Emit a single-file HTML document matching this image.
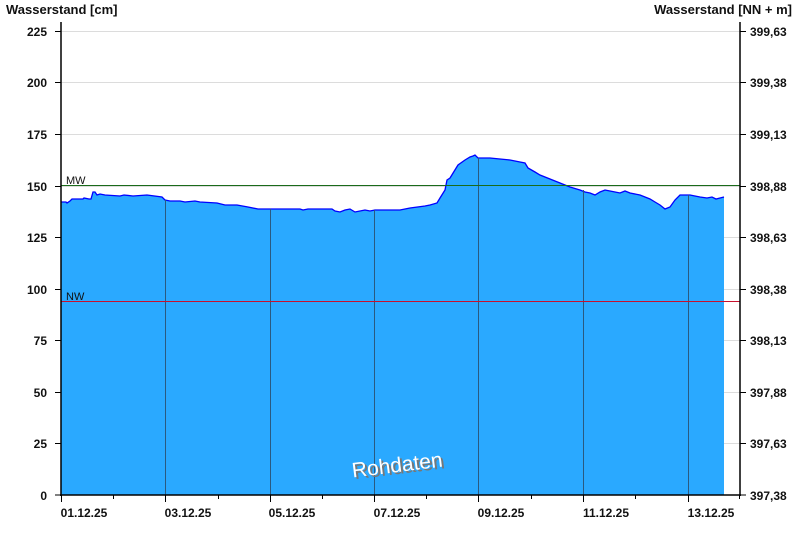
<!DOCTYPE html>
<html><head><meta charset="utf-8"><style>
html,body{margin:0;padding:0;background:#fff;}
svg{display:block;font-family:"Liberation Sans",Arial,sans-serif;}
</style></head><body>
<svg width="800" height="550" viewBox="0 0 800 550">
<rect width="800" height="550" fill="#fff"/>
<g stroke="#dcdcdc" stroke-width="1">
<line x1="61" x2="740" y1="31.5" y2="31.5"/>
<line x1="61" x2="740" y1="82.5" y2="82.5"/>
<line x1="61" x2="740" y1="134.5" y2="134.5"/>
<line x1="61" x2="740" y1="186.5" y2="186.5"/>
<line x1="61" x2="740" y1="237.5" y2="237.5"/>
<line x1="61" x2="740" y1="289.5" y2="289.5"/>
<line x1="61" x2="740" y1="340.5" y2="340.5"/>
<line x1="61" x2="740" y1="392.5" y2="392.5"/>
<line x1="61" x2="740" y1="443.5" y2="443.5"/>
</g>
<polygon fill="#2aa9ff" stroke="none" points="61,495 61,202 66,202 67,203 70,201 72,199 83,199 84,198 89,199 91,199 93,192 95,192 97,195 100,194 105,195 120,196 124,195 133,196 147,195 162,197 165,200 170,201 180,201 185,202 195,201 200,202 217,203 225,205 237,205 248,207 258,209 270,209 300,209 303,210 308,209 332,209 335,211 340,212 345,210 350,209 355,212 365,210 370,211 375,210 380,210 400,210 410,208 425,206 430,205 437,203 440,198 445,190 447,180 450,178 458,165 465,160 470,157 473,156 475,155 478,158 480,158 490,158 500,159 510,160 520,162 525,163 528,168 535,172 540,175 550,179 560,183 570,187 580,190 585,192 590,193 595,195 600,192 605,190 610,191 620,193 625,191 630,193 640,195 645,197 650,199 655,202 660,205 665,209 670,207 675,200 680,195 690,195 700,197 707,198 712,197 716,199 720,198 724,197 724,495"/>
<polyline fill="none" stroke="#0000ff" stroke-width="1.3" points="61,202 66,202 67,203 70,201 72,199 83,199 84,198 89,199 91,199 93,192 95,192 97,195 100,194 105,195 120,196 124,195 133,196 147,195 162,197 165,200 170,201 180,201 185,202 195,201 200,202 217,203 225,205 237,205 248,207 258,209 270,209 300,209 303,210 308,209 332,209 335,211 340,212 345,210 350,209 355,212 365,210 370,211 375,210 380,210 400,210 410,208 425,206 430,205 437,203 440,198 445,190 447,180 450,178 458,165 465,160 470,157 473,156 475,155 478,158 480,158 490,158 500,159 510,160 520,162 525,163 528,168 535,172 540,175 550,179 560,183 570,187 580,190 585,192 590,193 595,195 600,192 605,190 610,191 620,193 625,191 630,193 640,195 645,197 650,199 655,202 660,205 665,209 670,207 675,200 680,195 690,195 700,197 707,198 712,197 716,199 720,198 724,197"/>
<g stroke="#2a5a80" stroke-width="1">
<line x1="165.5" x2="165.5" y1="200" y2="495"/>
<line x1="270.5" x2="270.5" y1="209" y2="495"/>
<line x1="374.5" x2="374.5" y1="210" y2="495"/>
<line x1="478.5" x2="478.5" y1="158" y2="495"/>
<line x1="583.5" x2="583.5" y1="190" y2="495"/>
<line x1="688.5" x2="688.5" y1="195" y2="495"/>
</g>
<line x1="61" x2="740" y1="185.5" y2="185.5" stroke="#1a6b1a" stroke-width="1"/>
<line x1="61" x2="740" y1="301.5" y2="301.5" stroke="#c8102e" stroke-width="1"/>
<text x="66" y="184" font-size="11" fill="#111">MW</text>
<text x="66" y="300" font-size="11" fill="#111">NW</text>
<g stroke="#000" stroke-width="1.5">
<line x1="61" x2="61" y1="22" y2="496"/>
<line x1="740" x2="740" y1="22" y2="496"/>
<line x1="60" x2="741" y1="495" y2="495"/>
</g>
<g stroke="#000" stroke-width="1">
<line x1="55" x2="61" y1="31.5" y2="31.5"/><line x1="55" x2="61" y1="82.5" y2="82.5"/><line x1="55" x2="61" y1="134.5" y2="134.5"/><line x1="55" x2="61" y1="186.5" y2="186.5"/><line x1="55" x2="61" y1="237.5" y2="237.5"/><line x1="55" x2="61" y1="289.5" y2="289.5"/><line x1="55" x2="61" y1="340.5" y2="340.5"/><line x1="55" x2="61" y1="392.5" y2="392.5"/><line x1="55" x2="61" y1="443.5" y2="443.5"/><line x1="55" x2="61" y1="495" y2="495"/>
<line x1="740" x2="746" y1="31.5" y2="31.5"/><line x1="740" x2="746" y1="82.5" y2="82.5"/><line x1="740" x2="746" y1="134.5" y2="134.5"/><line x1="740" x2="746" y1="186.5" y2="186.5"/><line x1="740" x2="746" y1="237.5" y2="237.5"/><line x1="740" x2="746" y1="289.5" y2="289.5"/><line x1="740" x2="746" y1="340.5" y2="340.5"/><line x1="740" x2="746" y1="392.5" y2="392.5"/><line x1="740" x2="746" y1="443.5" y2="443.5"/><line x1="740" x2="746" y1="495" y2="495"/>
<line x1="61.5" x2="61.5" y1="495" y2="502"/><line x1="113.5" x2="113.5" y1="495" y2="499"/><line x1="165.5" x2="165.5" y1="495" y2="502"/><line x1="218.5" x2="218.5" y1="495" y2="499"/><line x1="270.5" x2="270.5" y1="495" y2="502"/><line x1="322.5" x2="322.5" y1="495" y2="499"/><line x1="374.5" x2="374.5" y1="495" y2="502"/><line x1="426.5" x2="426.5" y1="495" y2="499"/><line x1="478.5" x2="478.5" y1="495" y2="502"/><line x1="531.5" x2="531.5" y1="495" y2="499"/><line x1="583.5" x2="583.5" y1="495" y2="502"/><line x1="635.5" x2="635.5" y1="495" y2="499"/><line x1="688.5" x2="688.5" y1="495" y2="502"/><line x1="739.5" x2="739.5" y1="495" y2="499"/>
</g>
<g font-size="12" font-weight="bold" fill="#111" text-anchor="end">
<text x="47" y="36">225</text><text x="47" y="87">200</text><text x="47" y="139">175</text><text x="47" y="191">150</text><text x="47" y="242">125</text><text x="47" y="294">100</text><text x="47" y="345">75</text><text x="47" y="397">50</text><text x="47" y="448">25</text><text x="47" y="500">0</text>
</g>
<g font-size="12" font-weight="bold" fill="#111" text-anchor="start">
<text x="750" y="36">399,63</text><text x="750" y="87">399,38</text><text x="750" y="139">399,13</text><text x="750" y="191">398,88</text><text x="750" y="242">398,63</text><text x="750" y="294">398,38</text><text x="750" y="345">398,13</text><text x="750" y="397">397,88</text><text x="750" y="448">397,63</text><text x="750" y="500">397,38</text>
</g>
<g font-size="12" font-weight="bold" fill="#111" text-anchor="middle">
<text x="84" y="517">01.12.25</text><text x="188" y="517">03.12.25</text><text x="292" y="517">05.12.25</text><text x="397" y="517">07.12.25</text><text x="501" y="517">09.12.25</text><text x="606" y="517">11.12.25</text><text x="711" y="517">13.12.25</text>
</g>
<text x="6" y="14" font-size="13" font-weight="bold" fill="#111">Wasserstand [cm]</text>
<text x="792" y="14" font-size="13" font-weight="bold" fill="#111" text-anchor="end">Wasserstand [NN + m]</text>
<g transform="translate(398,472) rotate(-7)">
<text x="2" y="2" font-size="21" fill="#777" text-anchor="middle">Rohdaten</text>
<text x="0" y="0" font-size="21" fill="#fff" text-anchor="middle">Rohdaten</text>
</g>
</svg>
</body></html>
